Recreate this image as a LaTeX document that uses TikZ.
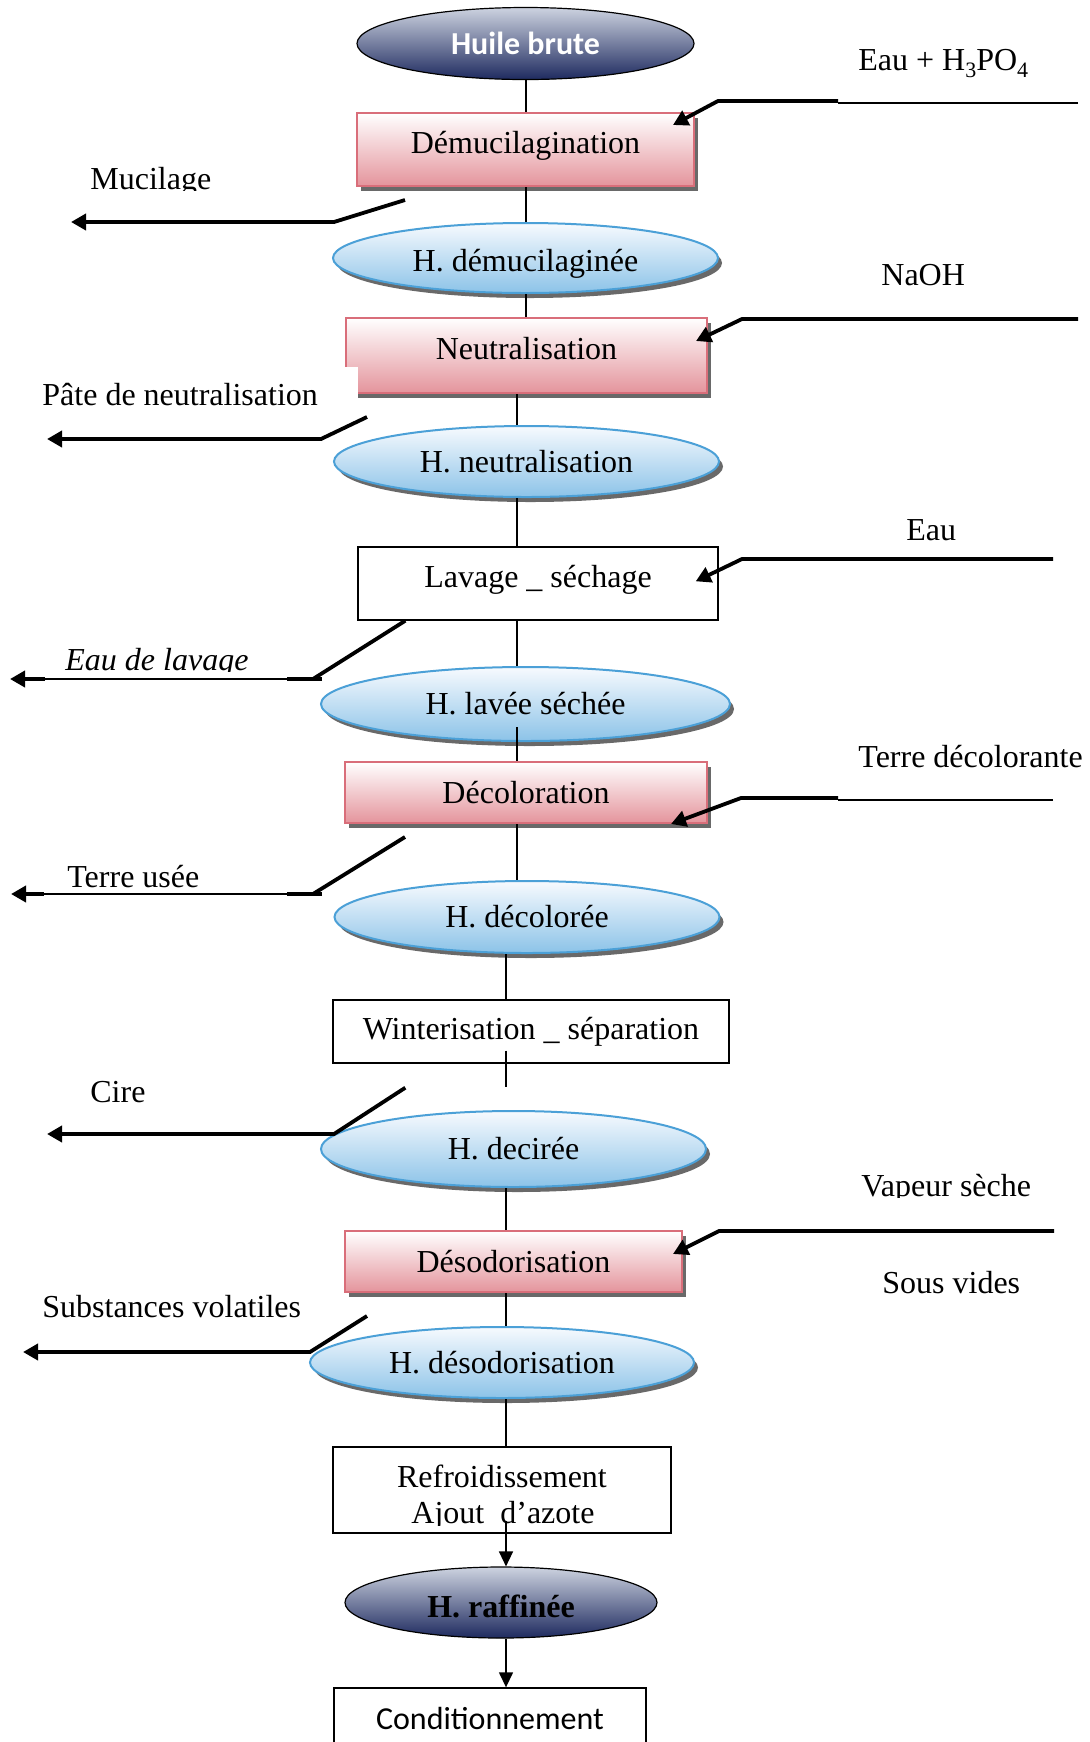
\documentclass[tikz,border=0pt]{standalone}
\usepackage{fontspec}
\setmainfont{Liberation Serif}
\newfontfamily\calibri{Carlito}
\usetikzlibrary{shapes.geometric,shadows,arrows.meta,calc}
\definecolor{pinkb}{RGB}{217,110,122}
\definecolor{pinkf}{RGB}{228,148,156}
\definecolor{blueb}{RGB}{75,160,215}
\definecolor{bluef}{RGB}{140,195,232}
\definecolor{bluet}{RGB}{247,250,254}
\definecolor{navyt}{RGB}{205,211,224}
\definecolor{navyf}{RGB}{30,42,95}
\definecolor{shad}{RGB}{105,105,105}
\newcommand\mysub[1]{\raisebox{-0.22em}{\fontsize{11}{11}\selectfont #1}}
\tikzset{
  txt/.style={font=\fontsize{16}{19}\selectfont, inner sep=0pt},
  procbox/.style={txt, rectangle, draw=pinkb, line width=1pt, top color=white, bottom color=pinkf,
    drop shadow={shadow xshift=2pt, shadow yshift=-2.5pt, fill=shad, opacity=1}},
  prodell/.style={txt, ellipse, draw=blueb, line width=1pt, top color=bluet, bottom color=bluef,
    drop shadow={shadow xshift=2pt, shadow yshift=-2.5pt, fill=shad, opacity=1}},
  endell/.style={txt, ellipse, draw=black, line width=0.6pt, top color=navyt, bottom color=navyf},
  plainbox/.style={txt, rectangle, draw=black, line width=0.7pt, fill=white},
  textup/.style={text height=11pt, text depth=6.6pt},
  link/.style={line width=0.7pt},
  flowarrow/.style={line width=0.7pt, -{Triangle[width=7pt,length=7.5pt]}},
  sidethick/.style={line width=1.9pt},
  sidethin/.style={line width=1pt},
  tipped/.style={-{Triangle[width=8pt,length=7.5pt]}},
  lbl/.style={txt, anchor=base west},
}
\begin{document}
\begin{tikzpicture}[x=0.5pt,y=-0.5pt]
\clip (0,0) rectangle (1089,1742);
\fill[white] (0,0) rectangle (1089,1742);

% column coordinates
\coordinate (colA) at (526,0);
\coordinate (colB) at (517,0);
\coordinate (colC) at (506,0);

% main nodes
\node[endell, minimum width=168.5pt, minimum height=36pt, text=white, font=\calibri\bfseries\fontsize{16}{19}\selectfont] (huile) at (525.5,43.5) {Huile brute};
\node[procbox, textup, minimum width=168.5pt, minimum height=36.5pt] (demuc) at (525.5,149.5) {Démucilagination};
\node[prodell, text height=15pt, text depth=1.1pt, minimum width=192.5pt, minimum height=35pt] (hdemuc) at (525.5,258) {H. démucilaginée};
\node[procbox, textup, minimum width=180.5pt, minimum height=37.5pt] (neutr) at (526.5,355.5) {Neutralisation};
\fill[white] (343,367) rectangle (358,402);
\node[prodell, minimum width=192.5pt, minimum height=35.5pt] (hneutr) at (526.5,461.5) {H. neutralisation};
\node[plainbox, textup, minimum width=180pt, minimum height=36.5pt] (lavage) at (538,583.5) {Lavage \_ séchage};
\node[prodell, minimum width=204.5pt, minimum height=37pt] (hlavee) at (525.5,704) {H. lavée séchée};
\node[procbox, minimum width=181pt, minimum height=30.5pt] (decol) at (526,792.5) {Décoloration};
\node[prodell, minimum width=192.5pt, minimum height=36pt] (hdecol) at (527,917) {H. décolorée};
\node[plainbox, minimum width=198pt, minimum height=31.5pt] (winter) at (531,1031.5) {Winterisation \_ séparation};
\node[prodell, minimum width=192.5pt, minimum height=38pt] (hdecir) at (513.5,1149) {H. decirée};
\node[procbox, minimum width=168.5pt, minimum height=30.5pt] (desod) at (513.5,1261.5) {Désodorisation};
\node[prodell, minimum width=192pt, minimum height=35.5pt] (hdesod) at (502,1362.5) {H. désodorisation};
\node[plainbox, minimum width=169pt, minimum height=43pt] (refroid) at (502,1490) {};
\node[txt, anchor=base] (refroid-l1) at (502,1487) {Refroidissement};
\begin{scope}
  \clip (340,1495) rectangle (665,1525);
  \node[txt, anchor=base] (refroid-l2) at (503,1523) {Ajout \ d’azote};
\end{scope}
\node[endell, text height=14.8pt, text depth=0pt, minimum width=156pt, minimum height=35.5pt, font=\bfseries\fontsize{16}{19}\selectfont] (hraff) at (501,1602.5) {H. raffinée};
\node[plainbox, minimum width=156pt, minimum height=30pt, font=\calibri\fontsize{16}{19}\selectfont] (condit) at (490,1718) {Conditionnement};

% vertical connectors
\draw[link] (huile.south -| colA) -- (demuc.north -| colA);
\draw[link] (demuc.south -| colA) -- (hdemuc.north -| colA);
\draw[link] (hdemuc.south -| colA) -- (neutr.north -| colA);
\draw[link] (neutr.south -| colB) -- (hneutr.north -| colB);
\draw[link] (hneutr.south -| colB) -- (lavage.north -| colB);
\draw[link] (lavage.south -| colB) -- (hlavee.north -| colB);
\draw[link] ($(hlavee.center -| colB)+(0,23)$) -- (decol.north -| colB);
\draw[link] (decol.south -| colB) -- (hdecol.north -| colB);
\draw[link] (hdecol.south -| colC) -- (winter.north -| colC);
\coordinate (wint-end) at (506,1087);
\draw[link] ($(winter.south -| colC)+(0,-13)$) -- (wint-end);
\draw[link] (hdecir.south -| colC) -- (desod.north -| colC);
\draw[link] (desod.south -| colC) -- (hdesod.north -| colC);
\draw[link] (hdesod.south -| colC) -- (refroid.north -| colC);
\draw[flowarrow] ($(refroid.south -| colC)+(0,-13)$) -- (hraff.north -| colC);
\draw[flowarrow] (hraff.south -| colC) -- (condit.north -| colC);

% inputs (right)
\coordinate (in1a) at (1078,103);
\coordinate (in1b) at (838,103);
\coordinate (in1c) at (838,101);
\draw[sidethin] (in1a) -- (in1b);
\draw[sidethick, tipped] (in1c) -- (718,101) -- ([shift={(-22,13)}]demuc.north east);

\coordinate (in2) at (1078,319);
\draw[sidethick, tipped] (in2) -- (742,319) -- ([shift={(-12,24)}]neutr.north east);

\coordinate (in3) at (1053,559);
\draw[sidethick, tipped] (in3) -- (742,559) -- ([shift={(-23,35)}]lavage.north east);

\coordinate (in4a) at (1053,800);
\coordinate (in4b) at (838,800);
\coordinate (in4c) at (838,798);
\draw[sidethin] (in4a) -- (in4b);
\draw[sidethick, tipped] (in4c) -- (741,798) -- ([shift={(-37,0)}]decol.south east);

\coordinate (in5) at (1054,1231);
\draw[sidethick, tipped] (in5) -- (719,1231) -- ([shift={(-10,24)}]desod.north east);

% outputs (left)
\coordinate (out1) at (71,222);
\draw[sidethick, tipped] ([shift={(49,13)}]demuc.south west) -- (334,222) -- (out1);

\coordinate (out2) at (47,439);
\draw[sidethick, tipped] ([shift={(22,23)}]neutr.south west) -- (321,439) -- (out2);

\coordinate (out3) at (10,679);
\draw[sidethick] ([shift={(48,0)}]lavage.south west) -- (313,679);
\draw[sidethick] (322,679) -- (287,679);
\draw[sidethin] (287,679) -- (45,679);
\draw[sidethick, tipped] (45,679) -- (out3);

\coordinate (out4) at (11,894);
\draw[sidethick] ([shift={(61,13)}]decol.south west) -- (313,894);
\draw[sidethick] (322,894) -- (287,894);
\draw[sidethin] (287,894) -- (44,894);
\draw[sidethick, tipped] (44,894) -- (out4);

\coordinate (out5) at (47,1134);
\draw[sidethick, tipped] ([shift={(73,24)}]winter.south west) -- (334,1134) -- (out5);

\coordinate (out6) at (23,1352);
\draw[sidethick, tipped] ([shift={(23,23)}]desod.south west) -- (310,1352) -- (out6);

% labels
\node[lbl] (l-eau-h3po4) at (858,70) {Eau + H\mysub{3}PO\mysub{4}};
\begin{scope}
  \clip (80,150) rectangle (230,190);
  \node[lbl] (l-mucilage) at (90,189) {Mucilage};
\end{scope}
\node[lbl] (l-naoh) at (881,285) {NaOH};
\node[lbl] (l-pate) at (42,405) {Pâte de neutralisation};
\node[lbl] (l-eau) at (906,540) {Eau};
\begin{scope}
  \clip (55,630) rectangle (270,671);
  \node[lbl, font=\itshape\fontsize{16}{19}\selectfont] (l-eaulavage) at (65,670) {Eau de lavage};
\end{scope}
\node[lbl] (l-terredec) at (858,767) {Terre décolorante};
\node[lbl] (l-terreusee) at (67,887) {Terre usée};
\node[lbl] (l-cire) at (90,1102) {Cire};
\begin{scope}
  \clip (850,1160) rectangle (1060,1197);
  \node[lbl] (l-vapeur) at (861,1196) {Vapeur sèche};
\end{scope}
\node[lbl] (l-sousvides) at (882,1293) {Sous vides};
\node[lbl] (l-subst) at (42,1317) {Substances volatiles};
\end{tikzpicture}
\end{document}
